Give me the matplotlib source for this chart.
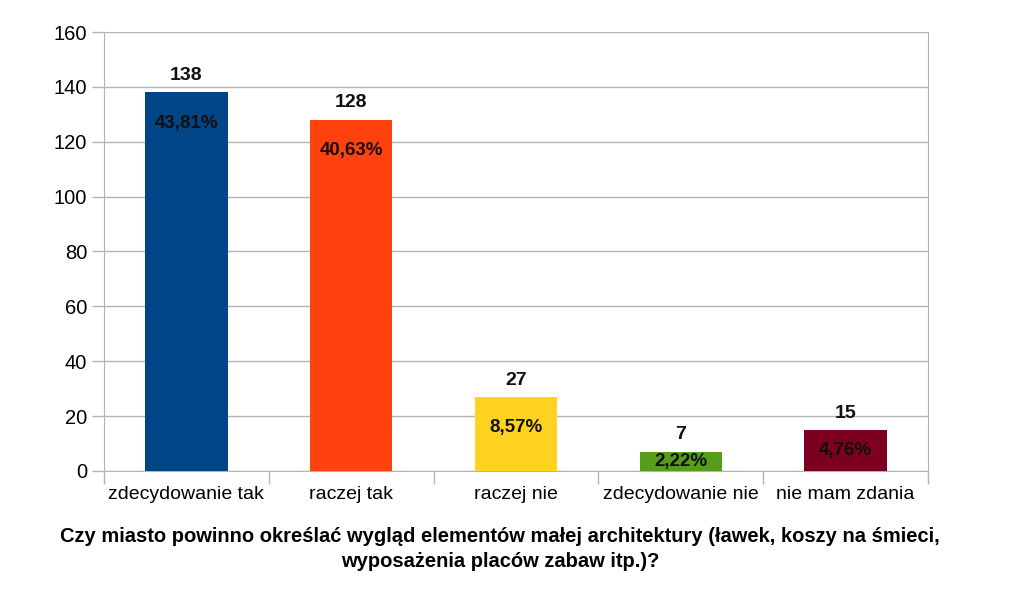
import matplotlib
matplotlib.use("Agg")
import matplotlib.pyplot as plt
import numpy as np

categories = ["zdecydowanie tak", "raczej tak", "raczej nie", "zdecydowanie nie", "nie mam zdania"]
values = [138, 128, 27, 7, 15]
percent_labels = ["43,81%", "40,63%", "8,57%", "2,22%", "4,76%"]
colors = ["#004586", "#ff420e", "#ffd320", "#579d1c", "#7e0021"]
yticks = [0, 20, 40, 60, 80, 100, 120, 140, 160]
title = ("Czy miasto powinno określać wygląd elementów małej architektury (ławek, koszy na śmieci,\n"
         "wyposażenia placów zabaw itp.)?")

plt.rcParams['font.family'] = ['Liberation Sans', 'DejaVu Sans']

fig = plt.figure(figsize=(10.24, 5.98), dpi=100)
ax = fig.add_axes([104/1024, 1 - 471/598, (928-104)/1024, (471-32)/598])

x = np.arange(len(categories))
ax.bar(x, values, width=0.5, color=colors, zorder=3)
ax.set_xlim(-0.5, len(categories) - 0.5)
ax.set_ylim(0, 160)
ax.set_yticks(yticks)
ax.set_yticklabels([str(v) for v in yticks], fontsize=14.5)
ax.yaxis.grid(True, color="#b3b3b3", linewidth=1, zorder=0)
ax.set_xticks(x)
ax.set_xticklabels(categories, fontsize=14)
ax.tick_params(axis='x', which='major', length=0, pad=11)
ax.set_xticks(np.arange(len(categories) + 1) - 0.5, minor=True)
ax.tick_params(axis='x', which='minor', length=9, color="#b3b3b3", width=1)
ax.tick_params(axis='y', length=9, color="#b3b3b3", width=1, pad=3)
for s in ax.spines.values():
    s.set_color("#b3b3b3")
ax.spines['top'].set_visible(False)

for xi, v, p in zip(x, values, percent_labels):
    ax.annotate(str(v), (xi, v), xytext=(0, 6), textcoords="offset points",
                ha="center", va="bottom", fontsize=14, fontweight="bold", color="#111111")
    top_px = ax.transData.transform((xi, v))[1]
    bot_px = ax.transData.transform((xi, 0))[1]
    y_px = max(top_px - 31, (top_px + bot_px) / 2)
    ydata = ax.transData.inverted().transform((0, y_px))[1]
    ax.text(xi, ydata, p, ha="center", va="center", fontsize=13.5, fontweight="bold", color="#111111", zorder=4)

fig.text(500/1024, 1 - 549/598, title, ha="center", va="center", fontsize=14.5,
         fontweight="bold", linespacing=1.45)

fig.savefig("out.png", dpi=100)
